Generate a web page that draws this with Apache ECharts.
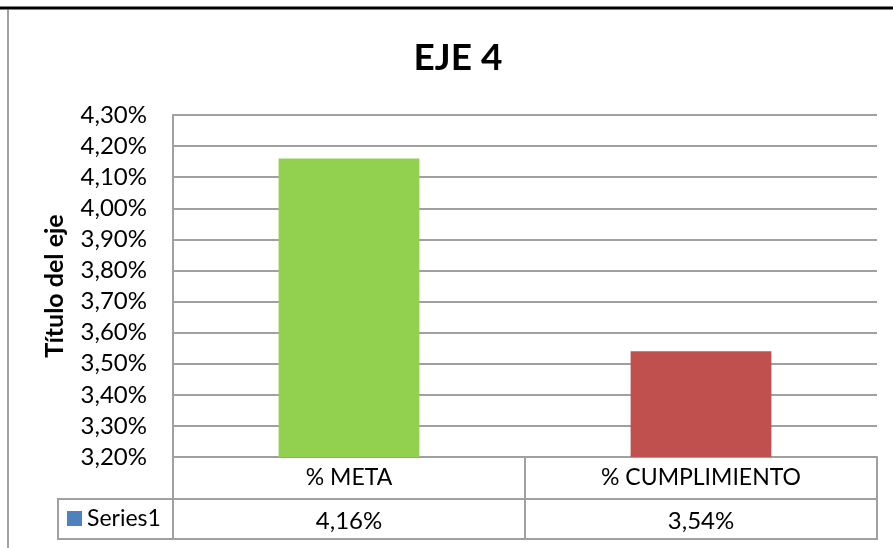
<!DOCTYPE html>
<html>
<head>
<meta charset="utf-8">
<title>EJE 4</title>
<script src="https://cdn.jsdelivr.net/npm/echarts@6/dist/echarts.min.js"></script>
<style>
    html, body { margin: 0; padding: 0; background: #fff; }
    #chart { width: 893px; height: 548px; }
</style>
</head>
<body>
<div id="chart"></div>
<script>
// datos del grafico
var categorias = ['% META', '% CUMPLIMIENTO'];
var valores = [4.16, 3.54];
var colores = ['#92D050', '#C0504D'];
var nombreSerie = 'Series1';

var fuente = 'Lato';
var gris = '#a0a0a0';

// 4.16 -> "4,16%"
function formato(v) {
    return v.toFixed(2).replace('.', ',') + '%';
}

var myChart = echarts.init(document.getElementById('chart'));

var option = {
    backgroundColor: '#fff',
    animation: false,
    grid: { left: 173, right: 16, top: 115, bottom: 91 },
    xAxis: [{
        type: 'category',
        data: categorias,
        axisLine: { lineStyle: { color: gris, width: 2 } },
        axisTick: { show: true, length: 82, lineStyle: { color: gris, width: 2 } },
        axisLabel: { margin: 9, fontFamily: fuente, fontSize: 23, color: '#000' }
    }, {
        // fila de valores de la tabla de datos
        type: 'category',
        data: categorias,
        position: 'bottom',
        offset: 42,
        axisLine: { show: false },
        axisTick: { show: false },
        axisLabel: {
            margin: 10, fontFamily: fuente, fontSize: 24, color: '#000',
            formatter: function (v, i) { return formato(valores[i]); }
        }
    }],
    yAxis: {
        type: 'value',
        min: 3.2,
        max: 4.3,
        interval: 0.1,
        name: 'Título del eje',
        nameLocation: 'middle',
        nameRotate: 90,
        nameGap: 106,
        nameTextStyle: { fontFamily: fuente, fontSize: 25, fontWeight: 'bold', color: '#000' },
        axisLine: { show: true, lineStyle: { color: gris, width: 2 } },
        axisTick: { show: false },
        axisLabel: { margin: 26, fontFamily: fuente, fontSize: 24, color: '#000', formatter: formato },
        splitLine: { lineStyle: { color: gris, width: 2 } }
    },
    series: [{
        name: nombreSerie,
        type: 'bar',
        barCategoryGap: '60%',
        data: valores.map(function (v, i) {
            return { value: v, itemStyle: { color: colores[i] } };
        })
    }],
    graphic: [
        // titulo
        { type: 'text', x: 458, y: 58, style: { text: 'EJE 4', fontFamily: fuente, fontSize: 37, fontWeight: 'bold', fill: '#000', align: 'center', verticalAlign: 'middle' } },
        // borde superior negro y borde izquierdo gris
        { type: 'line', shape: { x1: 0, y1: 8, x2: 893, y2: 8 }, style: { stroke: '#000', lineWidth: 3 } },
        { type: 'line', shape: { x1: 8, y1: 10, x2: 8, y2: 548 }, style: { stroke: gris, lineWidth: 2 } },
        // fila de la serie
        { type: 'rect', shape: { x: 58, y: 499, width: 819, height: 40 }, style: { fill: 'none', stroke: gris, lineWidth: 2 } },
        { type: 'rect', shape: { x: 67, y: 511, width: 15, height: 15 }, style: { fill: '#4F81BD' } },
        { type: 'text', x: 87, y: 519, style: { text: nombreSerie, fontFamily: fuente, fontSize: 23, fill: '#000', verticalAlign: 'middle' } }
    ]
};

myChart.setOption(option);
</script>
</body>
</html>
